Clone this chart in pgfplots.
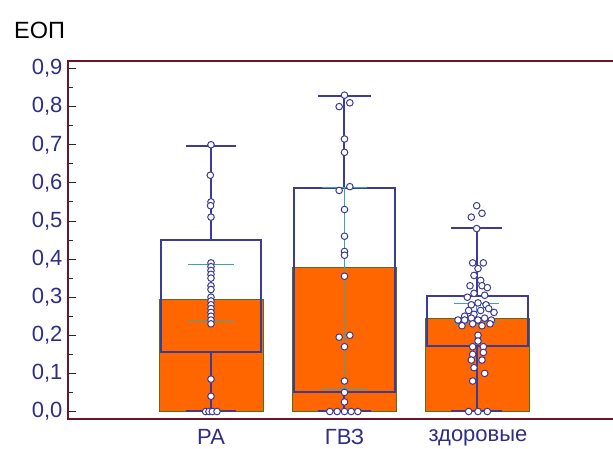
\documentclass[border=0pt]{standalone}
\usepackage{fontspec}
\setmainfont{Liberation Sans}
\usepackage{pgfplots}
\pgfplotsset{compat=1.18}
\definecolor{frame}{HTML}{6E1423}
\definecolor{navy}{HTML}{3C3C96}
\definecolor{lbl}{HTML}{2E2E84}
\definecolor{barc}{HTML}{FF6600}
\definecolor{baredge}{HTML}{5A6A20}
\definecolor{tealc}{HTML}{3AA6A6}
\begin{document}
\begin{tikzpicture}
\path[use as bounding box] (0,0) rectangle (613pt,448pt);
\begin{axis}[
  at={(68pt,29pt)}, anchor=south west,
  scale only axis, width=565pt, height=358pt,
  xmin=-0.071, xmax=4.161, ymin=-0.0197, ymax=0.9197,
  axis line style={draw=frame, line width=2.2pt},
  xtick={1,2,3}, xticklabels={РА,ГВЗ,здоровые},
  x tick style={draw=none},
  xticklabel style={font=\fontsize{22}{22}\selectfont, text=lbl, yshift=-7pt},
  ytick={0,0.1,0.2,0.3,0.4,0.5,0.6,0.7,0.8,0.9},
  minor y tick num=1,
  ytick pos=left, ytick align=inside,
  y tick style={draw=black!85, line width=0.8pt},
  major tick length=8pt, minor tick length=4.5pt,
  yticklabel style={font=\fontsize{22}{22}\selectfont, text=lbl, xshift=-2pt,
    /pgf/number format/use comma, /pgf/number format/fixed,
    /pgf/number format/fixed zerofill, /pgf/number format/precision=1,
    /pgf/number format/assume math mode=true},
]
% orange bars (means)
\addplot[fill=barc, draw=baredge, line width=0.8pt] coordinates {(0.61,0) (1.39,0) (1.39,0.294) (0.61,0.294)} --cycle;
\addplot[fill=barc, draw=baredge, line width=0.8pt] coordinates {(1.61,0) (2.39,0) (2.39,0.379) (1.61,0.379)} --cycle;
\addplot[fill=barc, draw=baredge, line width=0.8pt] coordinates {(2.605,0) (3.385,0) (3.385,0.243) (2.605,0.243)} --cycle;
% boxes
\addplot[draw=navy, line width=2pt] coordinates {(0.625,0.155) (1.375,0.155) (1.375,0.451) (0.625,0.451)} --cycle;
\addplot[draw=navy, line width=2pt] coordinates {(1.625,0.051) (2.375,0.051) (2.375,0.587) (1.625,0.587)} --cycle;
\addplot[draw=navy, line width=2pt] coordinates {(2.62,0.171) (3.376,0.171) (3.376,0.302) (2.62,0.302)} --cycle;
% whiskers
\addplot[draw=navy, line width=2pt] coordinates {(1,0.451) (1,0.696)};
\addplot[draw=navy, line width=2pt] coordinates {(1,0) (1,0.155)};
\addplot[draw=navy, line width=2pt] coordinates {(0.81,0.696) (1.19,0.696)};
\addplot[draw=navy, line width=2pt] coordinates {(0.81,0) (1.19,0)};
\addplot[draw=navy, line width=2pt] coordinates {(2,0.587) (2,0.827)};
\addplot[draw=navy, line width=2pt] coordinates {(2,0) (2,0.051)};
\addplot[draw=navy, line width=2pt] coordinates {(1.8,0.827) (2.2,0.827)};
\addplot[draw=navy, line width=2pt] coordinates {(1.8,0) (2.2,0)};
\addplot[draw=navy, line width=2pt] coordinates {(2.99,0.302) (2.99,0.481)};
\addplot[draw=navy, line width=2pt] coordinates {(2.99,0) (2.99,0.171)};
\addplot[draw=navy, line width=2pt] coordinates {(2.8,0.481) (3.18,0.481)};
\addplot[draw=navy, line width=2pt] coordinates {(2.8,0) (3.18,0)};
% teal intervals
\addplot[draw=tealc, line width=1pt] coordinates {(1,0.236) (1,0.386)};
\addplot[draw=tealc, line width=1.3pt] coordinates {(0.83,0.386) (1.17,0.386)};
\addplot[draw=tealc, line width=1.3pt] coordinates {(0.83,0.236) (1.17,0.236)};
\addplot[draw=tealc, line width=1pt] coordinates {(2,0.06) (2,0.587)};
\addplot[draw=tealc, line width=1.3pt] coordinates {(1.835,0.587) (2.165,0.587)};
\addplot[draw=tealc, line width=1.3pt] coordinates {(1.835,0.06) (2.165,0.06)};
\addplot[draw=tealc, line width=1pt] coordinates {(2.99,0.231) (2.99,0.283)};
\addplot[draw=tealc, line width=1.3pt] coordinates {(2.82,0.283) (3.16,0.283)};
\addplot[draw=tealc, line width=1.3pt] coordinates {(2.82,0.231) (3.16,0.231)};
% individual points
\addplot[only marks, mark=*, mark size=3.3pt, mark options={fill=white, draw=navy, line width=1pt}] coordinates {
(1,0.70) (0.995,0.62) (1,0.55) (0.997,0.54) (1,0.51)
(1,0.39) (1,0.38) (1,0.37) (1,0.36) (1,0.35) (1,0.33) (1,0.32) (1,0.30)
(1,0.29) (1,0.28) (1,0.27) (1,0.26) (1,0.25) (1,0.24) (1,0.23)
(1,0.085) (1,0.04)
(0.96,0) (0.985,0) (1.01,0) (1.045,0)
};
\addplot[only marks, mark=*, mark size=3.3pt, mark options={fill=white, draw=navy, line width=1pt}] coordinates {
(2,0.83) (2.04,0.81) (1.96,0.80) (2,0.715) (2,0.68)
(2.04,0.59) (1.96,0.58) (2,0.53) (2,0.46) (2,0.42) (2,0.41) (2,0.355)
(1.96,0.195) (2.04,0.20) (2,0.17) (2,0.08) (2,0.05) (2,0.025)
(1.89,0) (1.945,0) (2,0) (2.05,0) (2.1,0)
};
\addplot[only marks, mark=*, mark size=3.3pt, mark options={fill=white, draw=navy, line width=1pt}] coordinates {
(2.99,0.54) (2.95,0.51) (3.03,0.52) (2.99,0.48)
(2.96,0.39) (3.04,0.39) (3.0,0.375) (2.97,0.357) (3.02,0.344)
(2.94,0.33) (3.03,0.33) (3.07,0.325) (2.97,0.31) (3.05,0.305) (2.92,0.30)
(2.95,0.28) (3.0,0.285) (3.06,0.28) (2.93,0.265) (3.02,0.265) (3.08,0.27)
(2.9,0.25) (2.97,0.255) (3.12,0.26)
(2.85,0.24) (2.9,0.24) (2.95,0.245) (3.0,0.24) (3.05,0.245) (3.1,0.24)
(2.88,0.225) (2.96,0.23) (3.03,0.225) (3.09,0.23)
(3.0,0.2) (3.0,0.185) (2.96,0.17) (3.04,0.17) (2.96,0.15) (3.04,0.155)
(2.95,0.135) (3.03,0.135) (2.97,0.115) (3.05,0.1) (2.96,0.08)
(2.93,0) (3.0,0) (3.07,0)
};
\end{axis}
\node[anchor=west, inner sep=0, font=\fontsize{23.5}{23.5}\selectfont] at (14pt,418pt) {ЕОП};
\end{tikzpicture}
\end{document}
